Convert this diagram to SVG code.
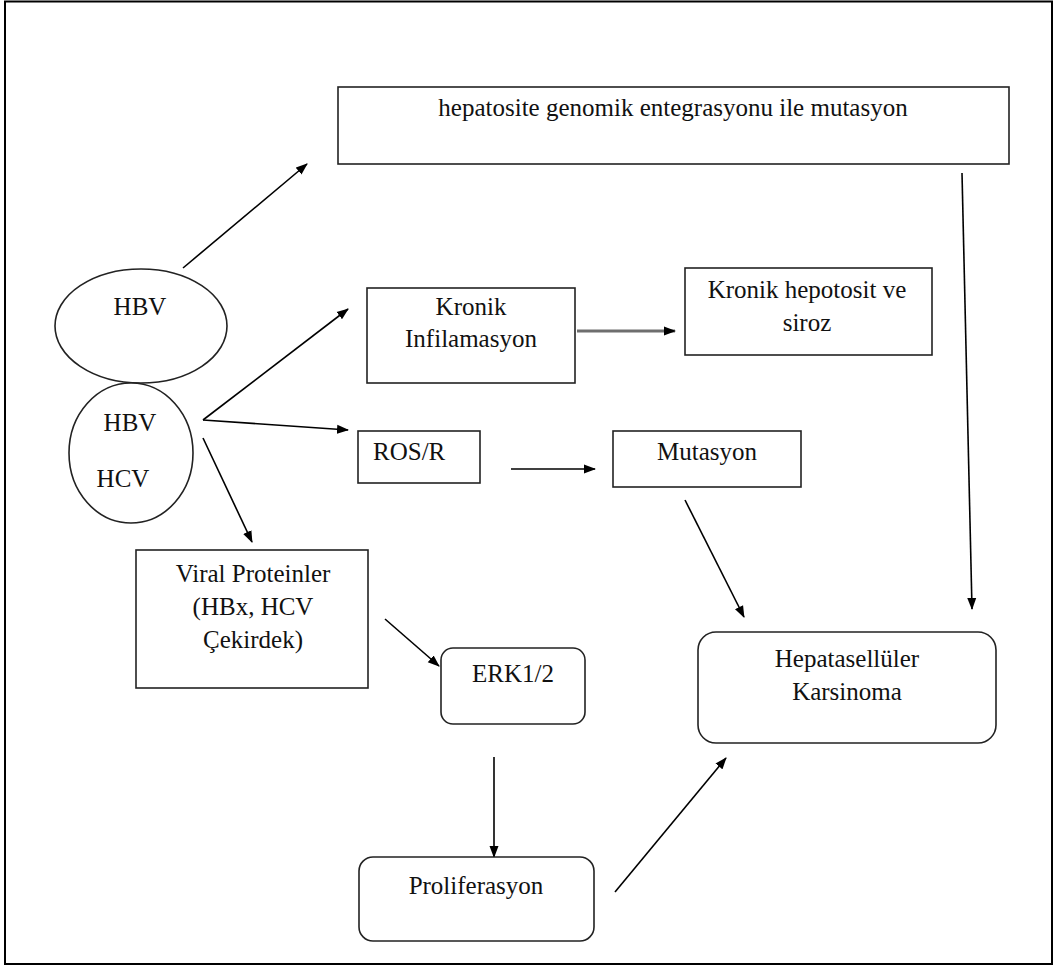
<svg xmlns="http://www.w3.org/2000/svg" width="1057" height="969" viewBox="0 0 1057 969">
<style>
.n{fill:#fff;stroke:#222;stroke-width:1.6}
.t{font-family:"Liberation Serif","Times New Roman",serif;font-size:25px;fill:#111;text-anchor:middle}
.c{stroke:#000;stroke-width:1.6;fill:none;marker-end:url(#ah)}
</style>
<defs>
<marker id="ah" markerWidth="12" markerHeight="10" refX="11" refY="5" orient="auto" markerUnits="userSpaceOnUse"><path d="M0,0.5 L12,5 L0,9.5 z" fill="#000"/></marker>
</defs>
<rect x="0" y="0" width="1057" height="969" fill="#fff"/>
<rect x="5" y="1.5" width="1047" height="962.5" fill="none" stroke="#000" stroke-width="2"/>
<g id="connectors">
<line class="c" x1="183" y1="268" x2="307" y2="164"/>
<line class="c" x1="203" y1="420" x2="348" y2="309"/>
<line class="c" x1="203" y1="420" x2="348" y2="430"/>
<line class="c" x1="203" y1="438" x2="252" y2="542"/>
<line class="c" x1="577" y1="331" x2="675" y2="331" style="stroke:#6e6e6e;stroke-width:3.2"/>
<line class="c" x1="511" y1="469" x2="595" y2="469"/>
<line class="c" x1="685" y1="500" x2="744" y2="617"/>
<line class="c" x1="962" y1="173" x2="972" y2="609"/>
<line class="c" x1="385" y1="619" x2="439" y2="666"/>
<line class="c" x1="494" y1="757" x2="494" y2="857"/>
<line class="c" x1="615" y1="892" x2="726" y2="758"/>
</g>
<g id="top"><rect class="n" x="338" y="87" width="671" height="77"/><text class="t" x="673" y="116">hepatosite genomik entegrasyonu ile mutasyon</text></g>
<g id="hbv"><ellipse class="n" cx="141" cy="326" rx="86" ry="57"/><text class="t" x="140" y="315">HBV</text></g>
<g id="hbvhcv"><ellipse class="n" cx="131" cy="453" rx="62" ry="70"/><text class="t" x="130" y="431">HBV</text><text class="t" x="123" y="487">HCV</text></g>
<g id="kronik"><rect class="n" x="367" y="288" width="208" height="95"/><text class="t" x="471" y="315">Kronik</text><text class="t" x="471" y="347">Infilamasyon</text></g>
<g id="siroz"><rect class="n" x="685" y="268" width="247" height="87"/><text class="t" x="807" y="298">Kronik hepotosit ve</text><text class="t" x="807" y="331">siroz</text></g>
<g id="ros"><rect class="n" x="358" y="431" width="122" height="52"/><text class="t" x="373" y="460" style="text-anchor:start">ROS/R</text></g>
<g id="mutasyon"><rect class="n" x="613" y="431" width="188" height="56"/><text class="t" x="707" y="460">Mutasyon</text></g>
<g id="viral"><rect class="n" x="136" y="550" width="232" height="138"/><text class="t" x="253" y="582">Viral Proteinler</text><text class="t" x="253" y="615">(HBx, HCV</text><text class="t" x="253" y="648">Çekirdek)</text></g>
<g id="erk"><rect class="n" x="441" y="648" width="144" height="76" rx="12"/><text class="t" x="513" y="682">ERK1/2</text></g>
<g id="prolif"><rect class="n" x="359" y="857" width="235" height="84" rx="14"/><text class="t" x="476" y="894">Proliferasyon</text></g>
<g id="hcc"><rect class="n" x="698" y="632" width="298" height="111" rx="18"/><text class="t" x="847" y="667">Hepatasellüler</text><text class="t" x="847" y="700">Karsinoma</text></g>
</svg>
